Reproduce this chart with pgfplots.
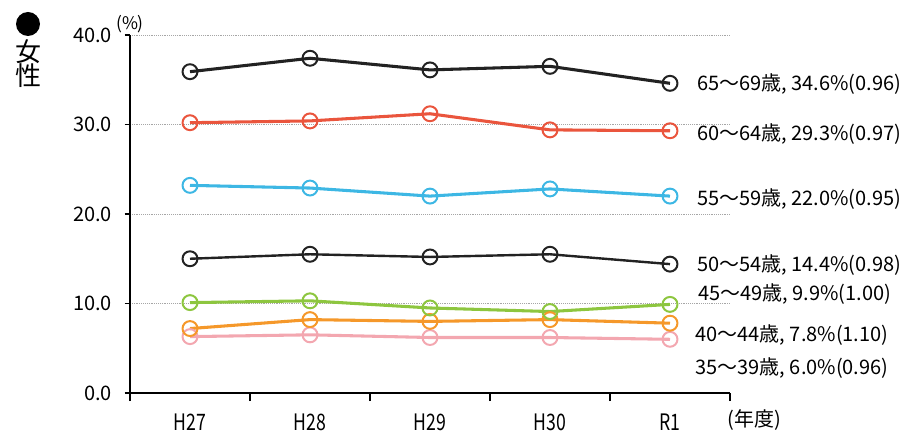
\documentclass[border=0pt]{standalone}
\usepackage{pgfplots}
\pgfplotsset{compat=1.18}
\usepackage{fontspec}
\setmainfont{Noto Sans CJK JP}
\newfontfamily\narrowfont[FakeStretch=0.78]{Noto Sans CJK JP}
\definecolor{c65}{HTML}{222222}
\definecolor{c60}{HTML}{EA553D}
\definecolor{c55}{HTML}{3DB7E4}
\definecolor{c50}{HTML}{222222}
\definecolor{c45}{HTML}{8DC63F}
\definecolor{c40}{HTML}{F5982A}
\definecolor{c35}{HTML}{F3A7B0}
\begin{document}
\begin{tikzpicture}[x=0.75pt,y=0.75pt]
\path[use as bounding box] (0,0) rectangle (902,432);
\begin{axis}[
  at={(97.5pt,29.25pt)}, anchor=south west,
  scale only axis, width=450pt, height=268.5pt,
  xmin=-0.5, xmax=4.5, ymin=0, ymax=40,
  clip=false,
  axis x line*=bottom, axis y line*=left,
  axis line style={black, line width=1.2pt, -},
  xtick={0,1,2,3,4},
  xticklabels={H27,H28,H29,H30,R1},
  minor xtick={-0.5,0.5,1.5,2.5,3.5,4.5},
  ytick={0,10,20,30,40},
  tick align=outside,
  major tick length=4pt,
  minor tick length=6pt,
  x tick style={draw=none},
  minor x tick style={draw=black, line width=1pt},
  y tick style={black, line width=1pt},
  ymajorgrids,
  grid style={densely dotted, gray!70, line width=0.6pt},
  yticklabel={\pgfmathprintnumber[fixed,fixed zerofill,precision=1,assume math mode=true]{\tick}},
  yticklabel style={font=\fontsize{15pt}{18pt}\selectfont, xshift=-6pt},
  xticklabel style={font=\narrowfont\fontsize{17pt}{20pt}\selectfont, yshift=-8pt},
  every axis plot/.append style={line width=2.3pt, mark=o, mark size=5.6pt,
     mark options={fill=white, line width=1.5pt, solid}},
]
\addplot[c35] coordinates {(0,6.3) (1,6.5) (2,6.2) (3,6.2) (4,6.0)};
\addplot[c40] coordinates {(0,7.2) (1,8.2) (2,8.0) (3,8.2) (4,7.8)};
\addplot[c45] coordinates {(0,10.1) (1,10.3) (2,9.5) (3,9.1) (4,9.9)};
\addplot[c50, line width=1.8pt] coordinates {(0,15.0) (1,15.5) (2,15.2) (3,15.5) (4,14.4)};
\addplot[c55] coordinates {(0,23.2) (1,22.9) (2,22.0) (3,22.8) (4,22.0)};
\addplot[c60] coordinates {(0,30.2) (1,30.4) (2,31.2) (3,29.4) (4,29.3)};
\addplot[c65] coordinates {(0,35.9) (1,37.4) (2,36.1) (3,36.5) (4,34.6)};
\begin{scope}[every node/.style={anchor=west, inner sep=0pt, font=\fontsize{15pt}{18pt}\selectfont}]
\node at (axis cs:4.225,34.5) {65～69歳, 34.6\%(0.96)};
\node at (axis cs:4.225,28.9) {60～64歳, 29.3\%(0.97)};
\node at (axis cs:4.225,21.7) {55～59歳, 22.0\%(0.95)};
\node at (axis cs:4.225,14.3) {50～54歳, 14.4\%(0.98)};
\node at (axis cs:4.233,11.1) {45～49歳, 9.9\%(1.00)};
\node at (axis cs:4.21,6.5) {40～44歳, 7.8\%(1.10)};
\node at (axis cs:4.21,2.8) {35～39歳, 6.0\%(0.96)};
\end{scope}
\end{axis}
\fill[black] (28,408) circle (12);
\node[font=\fontsize{19.5pt}{22pt}\selectfont, inner sep=0pt] at (28,380) {女};
\node[font=\fontsize{19.5pt}{22pt}\selectfont, inner sep=0pt] at (28,356) {性};
\node[font=\fontsize{13pt}{15pt}\selectfont, inner sep=0pt] at (130,408) {(\%)};
\node[font=\fontsize{15pt}{18pt}\selectfont, inner sep=0pt] at (754,12) {(年度)};
\end{tikzpicture}
\end{document}
